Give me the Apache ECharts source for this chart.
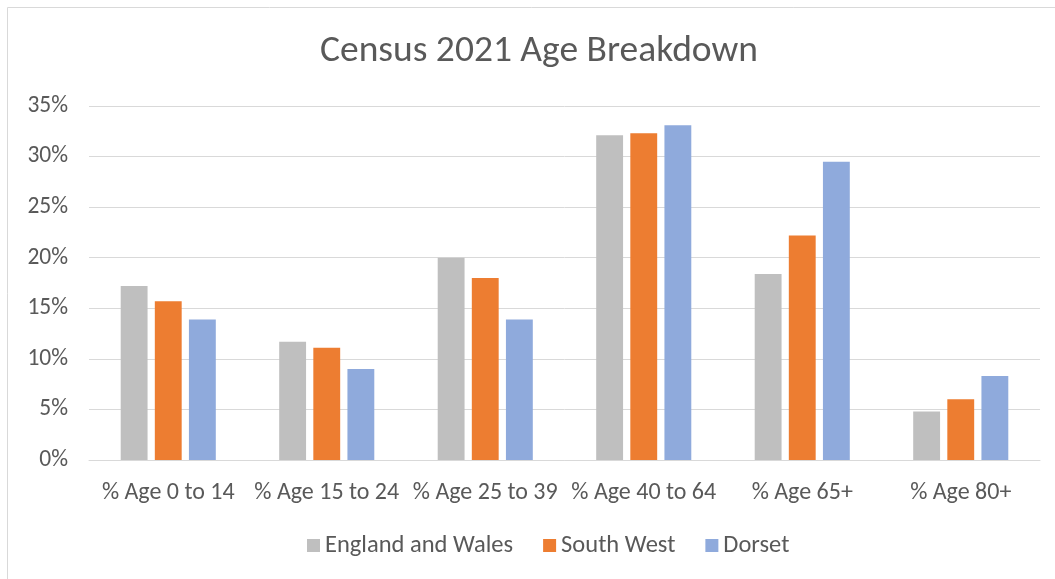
<!DOCTYPE html>
<html>
<head>
<meta charset="utf-8">
<script src="https://cdn.jsdelivr.net/npm/echarts@6/dist/echarts.min.js"></script>
<style>html,body{margin:0;padding:0;background:#fff;}#c{width:1055px;height:579px;}</style>
</head>
<body>
<div id="c"></div>
<script>
const categories = ['% Age 0 to 14', '% Age 15 to 24', '% Age 25 to 39', '% Age 40 to 64', '% Age 65+', '% Age 80+'];
const englandWales = [17.2, 11.7, 20.0, 32.1, 18.4, 4.8];
const southWest = [15.7, 11.1, 18.0, 32.3, 22.2, 6.0];
const dorset = [13.9, 9.0, 13.9, 33.1, 29.5, 8.3];
const seriesNames = ['England and Wales', 'South West', 'Dorset'];
const colors = ['#bfbfbf', '#ed7d31', '#8faadc'];

const font = 'Carlito, "Open Sans", "Noto Sans", sans-serif';
const chart = echarts.init(document.getElementById('c'), null, {renderer: 'canvas'});
chart.setOption({
  animation: false,
  color: colors,
  graphic: [{
    type: 'rect', shape: {x: 7.5, y: 7.5, width: 1060, height: 600},
    style: {fill: 'none', stroke: '#d9d9d9', lineWidth: 1}, silent: true
  }],
  title: {
    text: 'Census 2021 Age Breakdown', left: 315, top: 28,
    textStyle: {fontFamily: font, fontSize: 37.5, fontWeight: 'normal', color: '#595959'}
  },
  legend: {
    bottom: 16, left: 302, itemWidth: 13, itemHeight: 13, itemGap: 30,
    icon: 'rect',
    textStyle: {fontFamily: font, fontSize: 24.5, color: '#595959'},
    data: seriesNames
  },
  grid: {left: 89, right: 15, top: 106, bottom: 119, containLabel: false},
  xAxis: {
    type: 'category', data: categories,
    axisLine: {lineStyle: {color: '#d9d9d9', width: 1}},
    axisTick: {show: false},
    axisLabel: {fontFamily: font, fontSize: 24, color: '#595959', margin: 21, interval: 0}
  },
  yAxis: {
    type: 'value', min: 0, max: 35, interval: 5,
    axisLine: {show: false}, axisTick: {show: false},
    splitLine: {lineStyle: {color: '#d9d9d9', width: 1}},
    axisLabel: {fontFamily: font, fontSize: 23.5, color: '#595959', margin: 21, formatter: v => v + '%'}
  },
  series: [
    {name: seriesNames[0], type: 'bar', data: englandWales, barGap: '27%', barCategoryGap: '40%'},
    {name: seriesNames[1], type: 'bar', data: southWest, barGap: '27%', barCategoryGap: '40%'},
    {name: seriesNames[2], type: 'bar', data: dorset, barGap: '27%', barCategoryGap: '40%'}
  ]
});
</script>
</body>
</html>
